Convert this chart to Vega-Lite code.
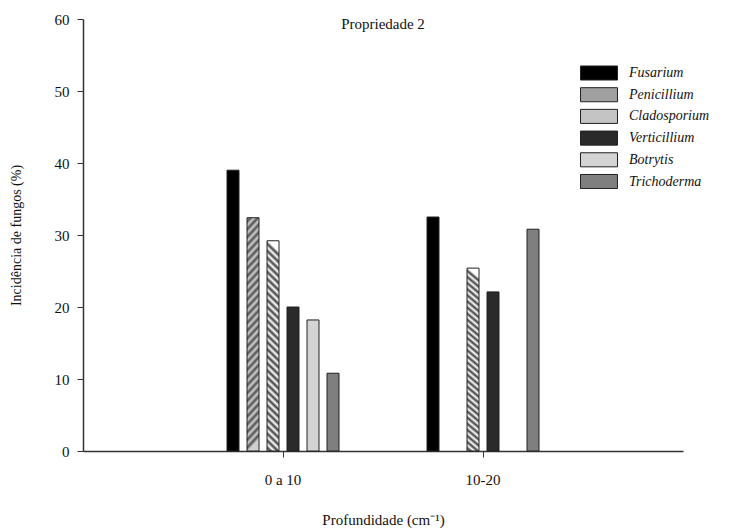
{
  "$schema": "https://vega.github.io/schema/vega-lite/v6.json",
  "autosize": "none",
  "padding": {"left": 83, "top": 19, "right": 46, "bottom": 80},
  "width": 600,
  "height": 432,
  "background": "white",
  "config": {
    "font": "Liberation Serif",
    "view": {"stroke": null},
    "axis": {"domainColor": "#333", "tickColor": "#333", "labelColor": "#111", "titleColor": "#111", "grid": false, "labelFont": "Liberation Serif", "titleFont": "Liberation Serif", "titleFontWeight": "normal"}
  },
  "title": {"text": "Propriedade 2", "font": "Liberation Serif", "fontSize": 15, "fontWeight": "normal", "color": "#111", "offset": -20, "anchor": "middle"},
  "data": {
    "values": [
      {"prof": "0 a 10", "fungo": "Fusarium", "valor": 39.0},
      {"prof": "0 a 10", "fungo": "Penicillium", "valor": 32.4},
      {"prof": "0 a 10", "fungo": "Cladosporium", "valor": 29.2},
      {"prof": "0 a 10", "fungo": "Verticillium", "valor": 20.0},
      {"prof": "0 a 10", "fungo": "Botrytis", "valor": 18.2},
      {"prof": "0 a 10", "fungo": "Trichoderma", "valor": 10.8},
      {"prof": "10-20", "fungo": "Fusarium", "valor": 32.5},
      {"prof": "10-20", "fungo": "Cladosporium", "valor": 25.4},
      {"prof": "10-20", "fungo": "Verticillium", "valor": 22.1},
      {"prof": "10-20", "fungo": "Trichoderma", "valor": 30.8}
    ]
  },
  "mark": {"type": "bar", "stroke": "#222", "strokeWidth": 1},
  "encoding": {
    "x": {
      "field": "prof", "type": "nominal",
      "scale": {"paddingInner": 0.24, "paddingOuter": 0.62},
      "axis": {"title": "Profundidade (cm⁻¹)", "labelAngle": 0, "labelFontSize": 15, "titleFontSize": 15, "tickSize": 6, "labelPadding": 15, "titlePadding": 25, "domainWidth": 1.5}
    },
    "xOffset": {
      "field": "fungo", "type": "nominal",
      "scale": {"domain": ["Fusarium", "Penicillium", "Cladosporium", "Verticillium", "Botrytis", "Trichoderma"], "paddingInner": 0.4, "paddingOuter": 1}
    },
    "y": {
      "field": "valor", "type": "quantitative",
      "scale": {"domain": [0, 60], "nice": false},
      "axis": {"title": "Incidência de fungos (%)", "values": [0, 10, 20, 30, 40, 50, 60], "labelFontSize": 15, "titleFontSize": 14, "tickSize": 6, "labelPadding": 8, "titlePadding": 31, "domainWidth": 1.5}
    },
    "fill": {
      "condition": [
        {"test": "datum.fungo === 'Penicillium'", "value": {"gradient": "linear", "x1": 0, "y1": 0, "x2": 0.055, "y2": 1, "stops": [
          {"offset": 0, "color": "#d0d0d0"}, {"offset": 0.0167, "color": "#505050"}, {"offset": 0.0333, "color": "#d0d0d0"}, {"offset": 0.05, "color": "#505050"},
          {"offset": 0.0667, "color": "#d0d0d0"}, {"offset": 0.0833, "color": "#505050"}, {"offset": 0.1, "color": "#d0d0d0"}, {"offset": 0.1167, "color": "#505050"},
          {"offset": 0.1333, "color": "#d0d0d0"}, {"offset": 0.15, "color": "#505050"}, {"offset": 0.1667, "color": "#d0d0d0"}, {"offset": 0.1833, "color": "#505050"},
          {"offset": 0.2, "color": "#d0d0d0"}, {"offset": 0.2167, "color": "#505050"}, {"offset": 0.2333, "color": "#d0d0d0"}, {"offset": 0.25, "color": "#505050"},
          {"offset": 0.2667, "color": "#d0d0d0"}, {"offset": 0.2833, "color": "#505050"}, {"offset": 0.3, "color": "#d0d0d0"}, {"offset": 0.3167, "color": "#505050"},
          {"offset": 0.3333, "color": "#d0d0d0"}, {"offset": 0.35, "color": "#505050"}, {"offset": 0.3667, "color": "#d0d0d0"}, {"offset": 0.3833, "color": "#505050"},
          {"offset": 0.4, "color": "#d0d0d0"}, {"offset": 0.4167, "color": "#505050"}, {"offset": 0.4333, "color": "#d0d0d0"}, {"offset": 0.45, "color": "#505050"},
          {"offset": 0.4667, "color": "#d0d0d0"}, {"offset": 0.4833, "color": "#505050"}, {"offset": 0.5, "color": "#d0d0d0"}, {"offset": 0.5167, "color": "#505050"},
          {"offset": 0.5333, "color": "#d0d0d0"}, {"offset": 0.55, "color": "#505050"}, {"offset": 0.5667, "color": "#d0d0d0"}, {"offset": 0.5833, "color": "#505050"},
          {"offset": 0.6, "color": "#d0d0d0"}, {"offset": 0.6167, "color": "#505050"}, {"offset": 0.6333, "color": "#d0d0d0"}, {"offset": 0.65, "color": "#505050"},
          {"offset": 0.6667, "color": "#d0d0d0"}, {"offset": 0.6833, "color": "#505050"}, {"offset": 0.7, "color": "#d0d0d0"}, {"offset": 0.7167, "color": "#505050"},
          {"offset": 0.7333, "color": "#d0d0d0"}, {"offset": 0.75, "color": "#505050"}, {"offset": 0.7667, "color": "#d0d0d0"}, {"offset": 0.7833, "color": "#505050"},
          {"offset": 0.8, "color": "#d0d0d0"}, {"offset": 0.8167, "color": "#505050"}, {"offset": 0.8333, "color": "#d0d0d0"}, {"offset": 0.85, "color": "#505050"},
          {"offset": 0.8667, "color": "#d0d0d0"}, {"offset": 0.8833, "color": "#505050"}, {"offset": 0.9, "color": "#d0d0d0"}, {"offset": 0.9167, "color": "#505050"},
          {"offset": 0.9333, "color": "#d0d0d0"}, {"offset": 0.95, "color": "#505050"}, {"offset": 0.9667, "color": "#d0d0d0"}, {"offset": 0.9833, "color": "#505050"},
          {"offset": 1, "color": "#d0d0d0"}
        ]}},
        {"test": "datum.fungo === 'Cladosporium'", "value": {"gradient": "linear", "x1": 0.055, "y1": 0, "x2": 0, "y2": 1, "stops": [
          {"offset": 0, "color": "#ffffff"}, {"offset": 0.0167, "color": "#404040"}, {"offset": 0.0333, "color": "#ffffff"}, {"offset": 0.05, "color": "#404040"},
          {"offset": 0.0667, "color": "#ffffff"}, {"offset": 0.0833, "color": "#404040"}, {"offset": 0.1, "color": "#ffffff"}, {"offset": 0.1167, "color": "#404040"},
          {"offset": 0.1333, "color": "#ffffff"}, {"offset": 0.15, "color": "#404040"}, {"offset": 0.1667, "color": "#ffffff"}, {"offset": 0.1833, "color": "#404040"},
          {"offset": 0.2, "color": "#ffffff"}, {"offset": 0.2167, "color": "#404040"}, {"offset": 0.2333, "color": "#ffffff"}, {"offset": 0.25, "color": "#404040"},
          {"offset": 0.2667, "color": "#ffffff"}, {"offset": 0.2833, "color": "#404040"}, {"offset": 0.3, "color": "#ffffff"}, {"offset": 0.3167, "color": "#404040"},
          {"offset": 0.3333, "color": "#ffffff"}, {"offset": 0.35, "color": "#404040"}, {"offset": 0.3667, "color": "#ffffff"}, {"offset": 0.3833, "color": "#404040"},
          {"offset": 0.4, "color": "#ffffff"}, {"offset": 0.4167, "color": "#404040"}, {"offset": 0.4333, "color": "#ffffff"}, {"offset": 0.45, "color": "#404040"},
          {"offset": 0.4667, "color": "#ffffff"}, {"offset": 0.4833, "color": "#404040"}, {"offset": 0.5, "color": "#ffffff"}, {"offset": 0.5167, "color": "#404040"},
          {"offset": 0.5333, "color": "#ffffff"}, {"offset": 0.55, "color": "#404040"}, {"offset": 0.5667, "color": "#ffffff"}, {"offset": 0.5833, "color": "#404040"},
          {"offset": 0.6, "color": "#ffffff"}, {"offset": 0.6167, "color": "#404040"}, {"offset": 0.6333, "color": "#ffffff"}, {"offset": 0.65, "color": "#404040"},
          {"offset": 0.6667, "color": "#ffffff"}, {"offset": 0.6833, "color": "#404040"}, {"offset": 0.7, "color": "#ffffff"}, {"offset": 0.7167, "color": "#404040"},
          {"offset": 0.7333, "color": "#ffffff"}, {"offset": 0.75, "color": "#404040"}, {"offset": 0.7667, "color": "#ffffff"}, {"offset": 0.7833, "color": "#404040"},
          {"offset": 0.8, "color": "#ffffff"}, {"offset": 0.8167, "color": "#404040"}, {"offset": 0.8333, "color": "#ffffff"}, {"offset": 0.85, "color": "#404040"},
          {"offset": 0.8667, "color": "#ffffff"}, {"offset": 0.8833, "color": "#404040"}, {"offset": 0.9, "color": "#ffffff"}, {"offset": 0.9167, "color": "#404040"},
          {"offset": 0.9333, "color": "#ffffff"}, {"offset": 0.95, "color": "#404040"}, {"offset": 0.9667, "color": "#ffffff"}, {"offset": 0.9833, "color": "#404040"},
          {"offset": 1, "color": "#ffffff"}
        ]}}
      ],
      "field": "fungo", "type": "nominal",
      "scale": {"domain": ["Fusarium", "Penicillium", "Cladosporium", "Verticillium", "Botrytis", "Trichoderma"], "range": ["#000000", "#a0a0a0", "#c4c4c4", "#2a2a2a", "#d4d4d4", "#7f7f7f"]},
      "legend": {
        "title": null, "orient": "none", "legendX": 506, "legendY": 44,
        "symbolType": "M-2,-0.76H2V0.76H-2Z", "symbolSize": 342, "symbolStrokeColor": "#222", "symbolStrokeWidth": 1,
        "labelFont": "Liberation Serif", "labelFontStyle": "italic", "labelFontSize": 14, "labelColor": "#111",
        "labelOffset": 20, "rowPadding": 1.7
      }
    }
  }
}
